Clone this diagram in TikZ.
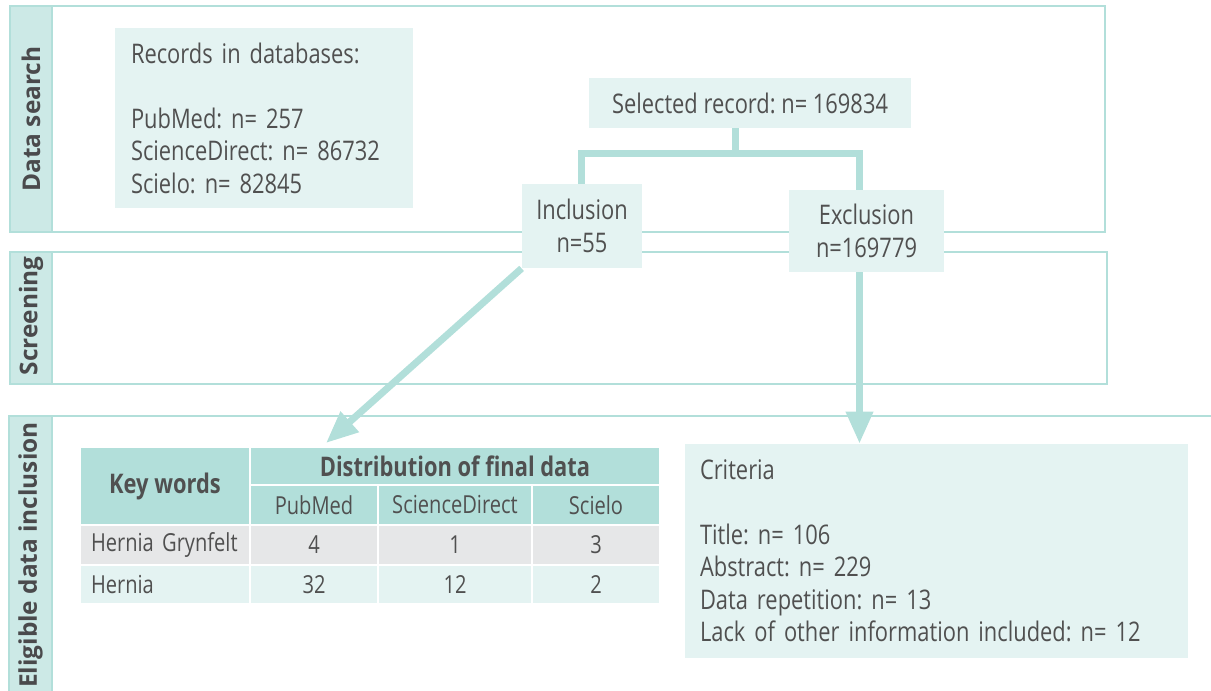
\documentclass[tikz,border=0pt]{standalone}
\usepackage{fontspec}
\setmainfont{Open Sans}[FakeStretch=0.81]
\newfontfamily\sidefont{Open Sans}
\usepackage{tikz}
\usetikzlibrary{arrows.meta,positioning}
\definecolor{tealline}{HTML}{B2DFDA}
\definecolor{sidefill}{HTML}{CCE9E6}
\definecolor{boxfill}{HTML}{E4F3F2}
\definecolor{rowgray}{HTML}{E6E7E8}
\definecolor{textgray}{HTML}{505050}
\definecolor{sidetext}{HTML}{4A4A4C}
\pgfdeclarelayer{bg}
\pgfsetlayers{bg,main}
\frenchspacing
\tikzset{
  phase/.style={
    draw=tealline,
    line width=1pt
  },
  sidebar/.style={
    fill=sidefill,
    draw=tealline,
    line width=1pt
  },
  sidelabel/.style={
    rotate=90,
    text=sidetext,
    font=\sidefont\bfseries\fontsize{12.2}{14}\selectfont
  },
  infobox/.style={
    fill=boxfill,
    inner sep=0pt,
    text=textgray,
    font=\fontsize{13.5}{16.25}\selectfont
  },
  listbox/.style={
    infobox,
    align=left,
    inner xsep=8pt
  },
  link/.style={
    draw=tealline,
    line width=3.5pt
  },
  linkarrow/.style={
    link,
    -{Triangle[width=13pt,length=16pt]}
  },
  cell/.style={
    draw=white,
    line width=0.75pt,
    inner sep=0pt,
    text=textgray,
    font=\fontsize{12.4}{14}\selectfont
  },
  headcell/.style={
    cell,
    fill=tealline
  }
}

\begin{document}
\begin{tikzpicture}[x=0.5pt, y=-0.5pt]
  \useasboundingbox (0,0) rectangle (1211,691);

  % flow boxes
  \node[listbox, text width=133pt, minimum height=90pt] (records) at (264,118)
    {Records in databases:\\[16.25pt]PubMed: n= 257\\ScienceDirect: n= 86732\\Scielo: n= 82845};
  \node[infobox, minimum width=161pt, minimum height=25pt] (sel) at (750,103)
    {Selected record: n= 169834};
  \node[infobox, align=center, minimum width=60pt, minimum height=42pt] (incl) at (582,226)
    {Inclusion\\n=55};
  \node[infobox, align=center, minimum width=77.5pt, minimum height=41pt] (excl) at (866.5,231)
    {Exclusion\\n=169779};
  \node[listbox, inner xsep=7.5pt, text width=236.5pt, minimum height=107pt] (crit) at (936.5,551)
    {Criteria\\[16.25pt]Title: n= 106\\Abstract: n= 229\\Data repetition: n= 13\\Lack of other information included: n= 12};

  % table
  \node[headcell, minimum width=85pt, minimum height=39pt] (kw) at (165,486)
    {\bfseries\fontsize{13.5}{15}\selectfont Key words};
  \node[headcell, minimum width=205pt, minimum height=19pt] (dist) at (455,466)
    {\bfseries\fontsize{13.5}{15}\selectfont Distribution of final data};
  \node[headcell, minimum width=64pt, minimum height=20pt] (pm) at (314,505) {PubMed};
  \node[headcell, minimum width=77pt, minimum height=20pt] (sd) at (455,505) {ScienceDirect};
  \node[headcell, minimum width=64pt, minimum height=20pt] (sc) at (596,505) {Scielo};

  \node[cell, fill=rowgray, align=left, text width=74pt, inner xsep=5.5pt, minimum height=20pt] (hg) at (165,545) {\mbox{Hernia Grynfelt}};
  \node[cell, fill=rowgray, minimum width=64pt, minimum height=20pt] (hgpm) at (314,545) {4};
  \node[cell, fill=rowgray, minimum width=77pt, minimum height=20pt] (hgsd) at (455,545) {1};
  \node[cell, fill=rowgray, minimum width=64pt, minimum height=20pt] (hgsc) at (596,545) {3};

  \node[cell, fill=boxfill, align=left, text width=74pt, inner xsep=5.5pt, minimum height=19.5pt] (he) at (165,584.5) {Hernia};
  \node[cell, fill=boxfill, minimum width=64pt, minimum height=19.5pt] (hepm) at (314,584.5) {32};
  \node[cell, fill=boxfill, minimum width=77pt, minimum height=19.5pt] (hesd) at (455,584.5) {12};
  \node[cell, fill=boxfill, minimum width=64pt, minimum height=19.5pt] (hesc) at (596,584.5) {2};

  % phase labels
  \node[sidelabel] (dslabel) at (31,119) {Data search};
  \node[sidelabel] (sclabel) at (31,316) {Screening};
  \node[sidelabel] (ellabel) at (30.5,555) {Eligible data inclusion};

  \coordinate (barmid) at (735.5,153.5);
  \coordinate (barL) at (581,153.5);
  \coordinate (barR) at (859.5,153.5);
  \coordinate (tabletip) at (326,443);

  \begin{pgfonlayer}{bg}
    % phases
    \draw[phase] (10,6) rectangle (1105,232);
    \filldraw[sidebar] (10,6) rectangle (52,232);
    \draw[phase] (10,252) rectangle (1107,384);
    \filldraw[sidebar] (10,252) rectangle (52,384);
    \draw[phase] (9,416) -- (1212,416);
    \filldraw[sidebar] (9,416) rectangle (52,700);

    % connectors
    \draw[link] (sel.south -| barmid) -- (barmid);
    \draw[link] (incl.north -| barL) -- (barL) -- (barR) -- (excl.north -| barR);
    \draw[linkarrow] (incl.south west) -- (tabletip);
    \draw[linkarrow] (excl.south -| barR) -- (crit.north -| barR);
  \end{pgfonlayer}
\end{tikzpicture}
\end{document}
